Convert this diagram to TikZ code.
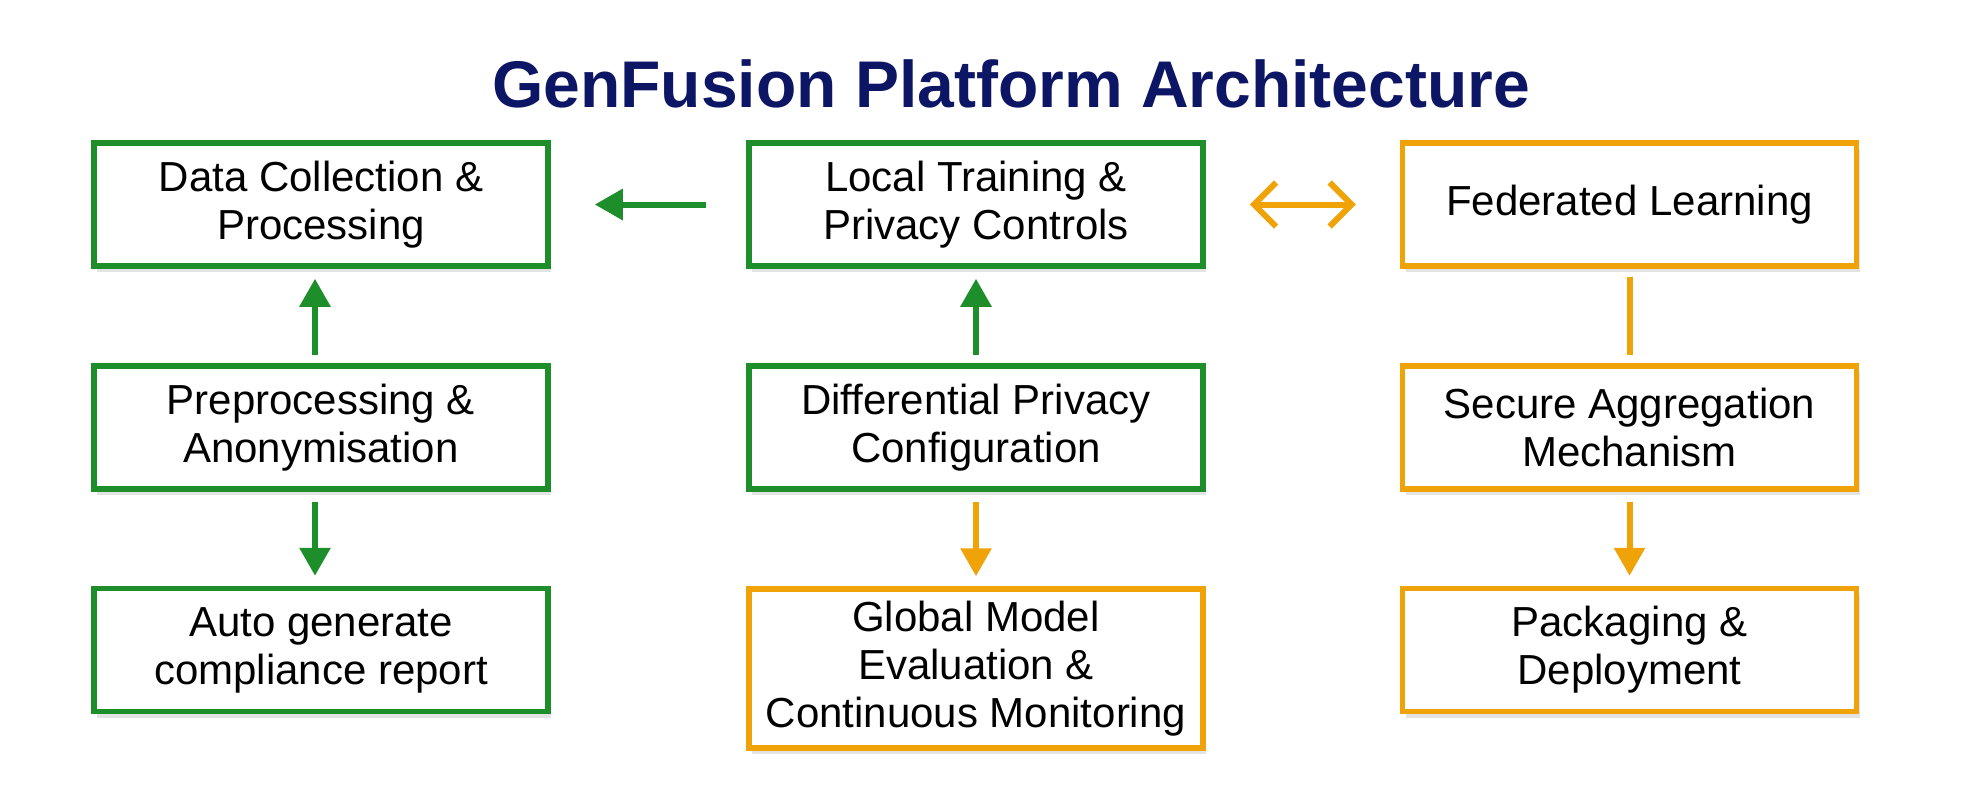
\documentclass[tikz,border=0pt]{standalone}
\usepackage{fontspec}
\setmainfont{Liberation Sans}
\usetikzlibrary{arrows.meta,shadows}
\definecolor{fedgreen}{RGB}{30,142,42}
\definecolor{fedorange}{RGB}{240,163,8}
\definecolor{titlenavy}{RGB}{12,22,100}

\begin{document}
\begin{tikzpicture}[x=0.5pt,y=-0.5pt,>=Latex,
  box/.style={draw,line width=2.75pt,fill=white,minimum width=227pt,minimum height=61.5pt,
    align=center,inner sep=0pt,font=\fontsize{21}{24}\selectfont,
    drop shadow={opacity=0.22,shadow xshift=1.5pt,shadow yshift=-3pt}},
  gbox/.style={box,draw=fedgreen},
  obox/.style={box,draw=fedorange},
  garrow/.style={-{Triangle[length=14pt,width=15pt]},line width=3pt,fedgreen},
  oarrow/.style={-{Triangle[length=14pt,width=15pt]},line width=3pt,fedorange}]
  \useasboundingbox[fill=white] (0,0) rectangle (1962,810);

  \node[font=\fontsize{33}{40}\selectfont\bfseries,text=titlenavy] (title) at (1011,84)
    {GenFusion Platform Architecture};

  % first row
  \node[gbox] (collect) at (321,204.5) {Data Collection \&\\Processing};
  \node[gbox] (local) at (976,204.5) {Local Training \&\\Privacy Controls};
  \node[obox] (fedlearn) at (1629.5,204.5) {Federated Learning};

  % second row
  \node[gbox] (anon) at (321,427.5) {Preprocessing \&\\Anonymisation};
  \node[gbox] (dpconf) at (976,427.5) {Differential Privacy\\Configuration};
  \node[obox] (secagg) at (1629.5,427.5) {Secure Aggregation\\Mechanism};

  % third row
  \node[gbox] (report) at (321,650) {Auto generate\\compliance report};
  \node[obox,minimum height=79.5pt] (monitor) at (976,668.5) {Global Model\\Evaluation \&\\Continuous Monitoring};
  \node[obox] (deploy) at (1629.5,650) {Packaging \&\\Deployment};

  \draw[garrow,shorten <=20pt,shorten >=22pt] (local.west) -- (collect.east);
  \draw[{Straight Barb[length=11pt,width=22pt]}-{Straight Barb[length=11pt,width=22pt]},
    line width=3pt,fedorange,shorten <=22pt,shorten >=22pt] (local.east) -- (fedlearn.west);

  \draw[garrow,shorten <=4pt,shorten >=5pt] ([xshift=-3pt]anon.north) -- ([xshift=-3pt]collect.south);
  \draw[garrow,shorten <=5pt,shorten >=5pt] ([xshift=-3pt]anon.south) -- ([xshift=-3pt]report.north);
  \draw[garrow,shorten <=4pt,shorten >=5pt] (dpconf.north) -- (local.south);
  \draw[oarrow,shorten <=5pt,shorten >=5pt] (dpconf.south) -- (monitor.north);
  \draw[line width=3pt,fedorange,shorten <=4pt,shorten >=4pt] (fedlearn.south) -- (secagg.north);
  \draw[oarrow,shorten <=5pt,shorten >=5pt] (secagg.south) -- (deploy.north);
\end{tikzpicture}
\end{document}
